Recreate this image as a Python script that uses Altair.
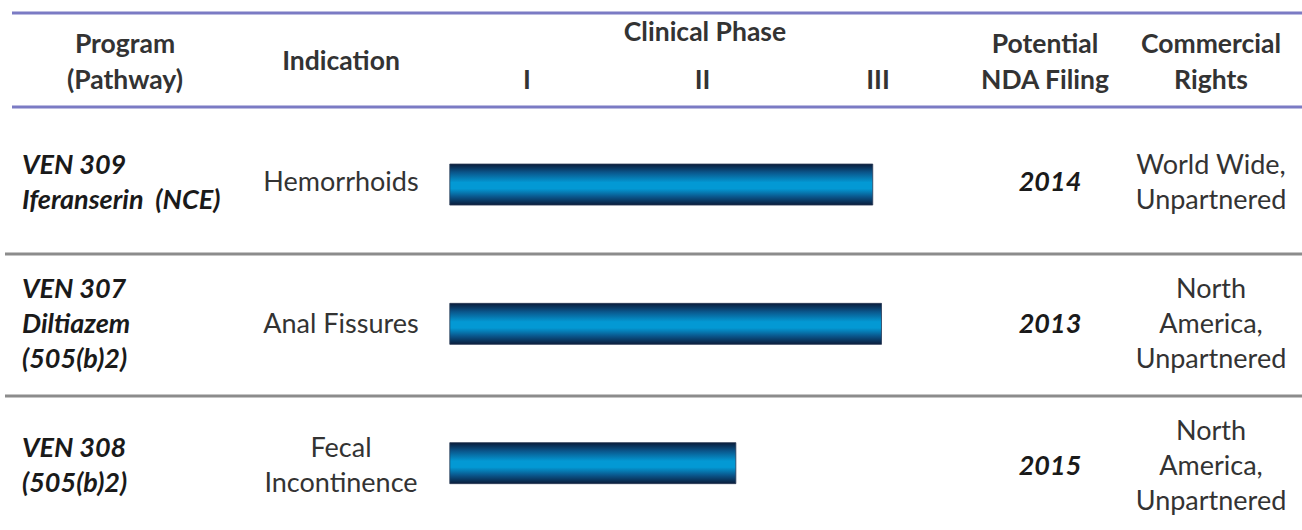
import altair as alt
import pandas as pd

# ---- data ----
programs = ["VEN 309\nIferanserin\u00a0 (NCE)", "VEN 307\nDiltiazem\n(505(b)2)", "VEN 308\n(505(b)2)"]
indications = ["Hemorrhoids", "Anal Fissures", "Fecal\nIncontinence"]
phase_start = [0.56, 0.56, 0.56]
phase_end = [2.97, 3.02, 2.19]
nda_years = ["2014", "2013", "2015"]
rights = ["World Wide,\nUnpartnered", "North\nAmerica,\nUnpartnered", "North\nAmerica,\nUnpartnered"]
phase_labels = ["I", "II", "III"]
phase_ticks = [1, 2, 3]
separators = [0.5, 1.5]

rows = pd.DataFrame({
    "row": [0, 1, 2],
    "program": programs,
    "indication": indications,
    "start": phase_start,
    "end": phase_end,
    "nda": nda_years,
    "rights": rights,
})
phases = pd.DataFrame({"label": phase_labels, "p": phase_ticks})
seps = pd.DataFrame({"row": separators})

W, H = 1302, 530
FONT = "Lato"
ROW_PX = 142.0
LH = 35
xs = alt.Scale(domain=[-2.003, 5.416], range=[0, W], nice=False, zero=False)
ys = alt.Scale(domain=[-1.289, 2.444], range=[0, H], nice=False, zero=False)
X = lambda f: alt.X(f, type="quantitative", scale=xs, axis=None)
Y = lambda f: alt.Y(f, type="quantitative", scale=ys, axis=None)

base = alt.Chart(rows)

grad = alt.Gradient(
    gradient="linear", x1=0, x2=0, y1=0, y2=1,
    stops=[
        alt.GradientStop(color="#0a1c3a", offset=0),
        alt.GradientStop(color="#0a558a", offset=0.2),
        alt.GradientStop(color="#0399d4", offset=0.45),
        alt.GradientStop(color="#0399d4", offset=0.6),
        alt.GradientStop(color="#0a558a", offset=0.8),
        alt.GradientStop(color="#0a1c3a", offset=1),
    ],
)
bars = base.mark_bar(height=41, color=grad, stroke="#2a3a55", strokeWidth=0.8, orient="horizontal").encode(
    x=X("start"), x2="end", y=Y("row")
)

tcommon = dict(font=FONT, fontSize=27, lineBreak="\n", lineHeight=LH, baseline="middle")


def col_text(field, x, **kw):
    # shift multi-line blocks so they are vertically centred on the row
    return base.transform_calculate(
        ty=f"datum.row - (length(split(datum['{field}'], '\\n')) - 1) * {LH / 2 / ROW_PX}"
    ).mark_text(**tcommon, **kw).encode(x=alt.value(x), y=Y("ty"), text=f"{field}:N")


prog = col_text("program", 22, align="left", fontStyle="italic", fontWeight="bold", color="#1a1a1a")
ind = col_text("indication", 341, align="center", color="#333333")
nda = col_text("nda", 1050, align="center", fontStyle="italic", fontWeight="bold", color="#1a1a1a")
rts = col_text("rights", 1211, align="center", color="#333333")

hcommon = dict(font=FONT, fontSize=26.5, fontWeight="bold", lineBreak="\n", lineHeight=36,
               baseline="middle", align="center", color="#333333")


def header(txt, x, y):
    return alt.Chart(pd.DataFrame({"t": [txt]})).mark_text(**hcommon).encode(
        x=alt.value(x), y=alt.value(y), text="t:N")


headers = [
    header("Program\n(Pathway)", 125, 45),
    header("Indication", 341, 62),
    header("Clinical Phase", 705, 33),
    header("Potential\nNDA Filing", 1045, 45),
    header("Commercial\nRights", 1211, 45),
]
phase_txt = alt.Chart(phases).mark_text(**hcommon).encode(
    x=X("p"), y=alt.value(81), text="label:N")

purple_lines = alt.Chart(pd.DataFrame({"y": [13, 107]})).mark_rule(color="#7b7bc4", strokeWidth=3).encode(
    x=alt.value(12), x2=alt.value(W), y=alt.Y("y:Q", scale=alt.Scale(domain=[0, H], range=[0, H], nice=False), axis=None))
gray_lines = alt.Chart(seps).mark_rule(color="#8c8c8c", strokeWidth=3).encode(
    x=alt.value(5), x2=alt.value(W), y=Y("row"))

chart = alt.layer(
    purple_lines, gray_lines, bars, prog, ind, nda, rts, *headers, phase_txt
).resolve_scale(y="independent").properties(
    width=W, height=H, padding=0, autosize=alt.AutoSizeParams(type="none"), background="white"
).configure_view(stroke=None)

chart.save("out.html", embed_options={"renderer": "svg", "actions": False})
